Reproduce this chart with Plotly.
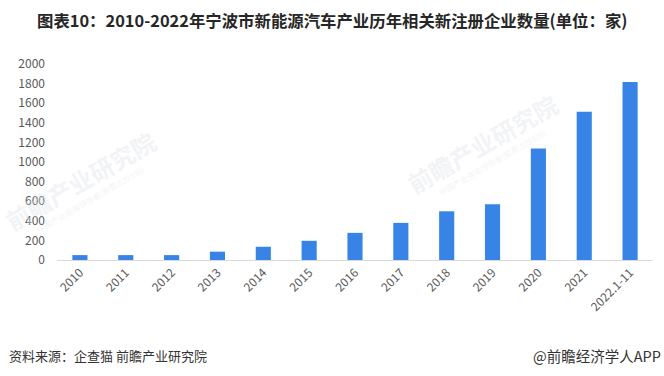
import plotly.graph_objects as go

categories = ["2010", "2011", "2012", "2013", "2014", "2015", "2016", "2017",
              "2018", "2019", "2020", "2021", "2022.1-11"]
values = [50, 50, 50, 85, 135, 196, 277, 379, 497, 569, 1137, 1513, 1817]
y_ticks = [0, 200, 400, 600, 800, 1000, 1200, 1400, 1600, 1800, 2000]

title_text = "图表10：2010-2022年宁波市新能源汽车产业历年相关新注册企业数量(单位：家)"
source_text = "资料来源：企查猫 前瞻产业研究院"
brand_text = "@前瞻经济学人APP"
watermark_text = "前瞻产业研究院"
watermark_sub = "中国产业咨询领导者(股票:839599)"

font_family = "Noto Sans CJK SC, Noto Sans, sans-serif"

W, H = 664, 376
L, R, T, B = 57, 11, 64, 116
PW, PH = W - L - R, H - T - B


def px(x):
    return (x - L) / PW


def py(y):
    return (H - B - y) / PH


wm_color = "rgba(220,224,232,0.4)"

fig = go.Figure()
fig.add_trace(go.Bar(
    x=categories, y=values,
    marker=dict(color="#3884E6", line=dict(width=0)),
    width=0.33,
))

ann = [
    dict(text="<b>" + title_text + "</b>", x=px(332), y=py(20),
         font=dict(size=16.4, color="#262626", family=font_family),
         xanchor="center", yanchor="middle"),
    dict(text=source_text, x=px(7), y=py(355),
         font=dict(size=13, color="#333333", family=font_family),
         xanchor="left", yanchor="middle"),
    dict(text=brand_text, x=px(663), y=py(355),
         font=dict(size=14.5, color="#333333", family=font_family),
         xanchor="right", yanchor="middle"),
    dict(text="<b>" + watermark_text + "</b>", x=px(482), y=py(143), textangle=-30,
         font=dict(size=24, color=wm_color, family=font_family),
         xanchor="center", yanchor="middle"),
    dict(text=watermark_sub, x=px(492), y=py(162), textangle=-30,
         font=dict(size=8, color=wm_color, family=font_family),
         xanchor="center", yanchor="middle"),
    dict(text="<b>" + watermark_text + "</b>", x=px(80), y=py(180), textangle=-30,
         font=dict(size=24, color=wm_color, family=font_family),
         xanchor="center", yanchor="middle"),
    dict(text=watermark_sub, x=px(90), y=py(199), textangle=-30,
         font=dict(size=8, color=wm_color, family=font_family),
         xanchor="center", yanchor="middle"),
]
for a in ann:
    a.update(xref="paper", yref="paper", showarrow=False)

fig.update_layout(
    width=W, height=H,
    margin=dict(l=L, r=R, t=T, b=B, autoexpand=False),
    paper_bgcolor="white", plot_bgcolor="white",
    showlegend=False,
    bargap=0.67,
    font=dict(family=font_family, color="#595959", size=12),
    xaxis=dict(
        type="category",
        tickangle=-45,
        showline=True, linecolor="#D9D9D9", linewidth=1,
        showgrid=False, ticks="",
        tickfont=dict(size=12, color="#595959"),
    ),
    yaxis=dict(
        range=[0, 2000],
        tickvals=y_ticks,
        showgrid=False, zeroline=False, showline=False,
        ticks="", ticklabelstandoff=11,
        tickfont=dict(size=12, color="#595959"),
    ),
    annotations=ann,
)

fig.write_html(
    "out.html",
    config={"displayModeBar": False},
    post_script="document.body.style.margin='0';document.body.style.overflow='hidden';",
)
